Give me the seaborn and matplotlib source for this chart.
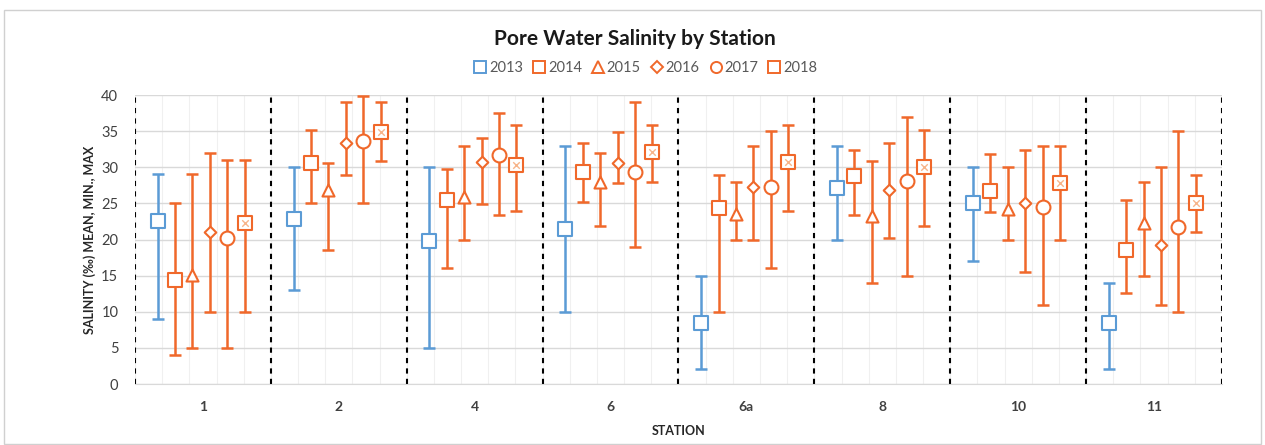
import numpy as np
import pandas as pd
import matplotlib.pyplot as plt
import seaborn as sns
from matplotlib.lines import Line2D

stations = ['1', '2', '4', '6', '6a', '8', '10', '11']
years = ['2013', '2014', '2015', '2016', '2017', '2018']

mean_2013 = [22.6, 22.8, 19.8, 21.5, 8.5, 27.1, 25.1, 8.5]
min_2013 = [9, 13, 5, 10, 2.1, 20, 17, 2.1]
max_2013 = [29, 30, 30, 32.9, 15, 32.9, 30, 14]

mean_2014 = [14.4, 30.6, 25.5, 29.4, 24.4, 28.8, 26.7, 18.5]
min_2014 = [4, 25.1, 16, 25.2, 10, 23.4, 23.8, 12.6]
max_2014 = [25, 35.2, 29.8, 33.3, 28.9, 32.4, 31.8, 25.5]

mean_2015 = [15.1, 26.8, 25.9, 27.9, 23.5, 23.3, 24.2, 22.3]
min_2015 = [5, 18.6, 20, 21.9, 20, 14, 20, 15]
max_2015 = [29, 30.6, 32.9, 32, 28, 30.9, 30, 28]

mean_2016 = [21.0, 33.4, 30.7, 30.6, 27.2, 26.9, 25.1, 19.2]
min_2016 = [10, 28.9, 24.9, 27.8, 20, 20.2, 15.5, 11]
max_2016 = [32, 39, 34, 34.9, 32.9, 33.3, 32.4, 30]

mean_2017 = [20.2, 33.7, 31.7, 29.4, 27.3, 28.1, 24.5, 21.7]
min_2017 = [5, 25, 23.4, 18.9, 16, 15, 11, 10]
max_2017 = [31, 39.9, 37.5, 39.1, 35, 37, 32.9, 35]

mean_2018 = [22.3, 34.9, 30.3, 32.1, 30.7, 30, 27.8, 25.1]
min_2018 = [10, 30.8, 23.9, 27.9, 23.9, 21.9, 20, 21.1]
max_2018 = [31, 39, 35.9, 35.9, 35.9, 35.1, 32.9, 28.9]

means = [mean_2013, mean_2014, mean_2015, mean_2016, mean_2017, mean_2018]
mins = [min_2013, min_2014, min_2015, min_2016, min_2017, min_2018]
maxs = [max_2013, max_2014, max_2015, max_2016, max_2017, max_2018]

rows = []
for i, yr in enumerate(years):
    for j, st in enumerate(stations):
        rows.append({'station': st, 'idx': j, 'year': yr, 'yi': i,
                     'mean': means[i][j], 'min': mins[i][j], 'max': maxs[i][j]})
df = pd.DataFrame(rows)
df['x'] = df['idx'] + (df['yi'] - 2.6) * 0.128

blue = '#5B9BD5'
orange = '#F0682A'
colors = {'2013': blue, '2014': orange, '2015': orange, '2016': orange, '2017': orange, '2018': orange}
markers = {'2013': 's', '2014': 's', '2015': '^', '2016': 'D', '2017': 'o', '2018': 's'}
sizes = {'2013': 105, '2014': 105, '2015': 75, '2016': 35, '2017': 100, '2018': 105}

sns.set_style("white")
plt.rcParams['font.family'] = ['Lato', 'DejaVu Sans']

fig = plt.figure(figsize=(12.65, 4.45), dpi=100)
ax = fig.add_axes([0.1067, 0.137, 0.8593, 0.6495])

for yr in years:
    d = df[df['year'] == yr]
    ax.errorbar(d['x'], d['mean'], yerr=[d['mean'] - d['min'], d['max'] - d['mean']],
                fmt='none', ecolor=colors[yr], elinewidth=1.8, capsize=4.5, capthick=1.8, zorder=3)
    sns.scatterplot(data=d, x='x', y='mean', ax=ax, marker=markers[yr], s=sizes[yr],
                    color='white', edgecolor=colors[yr], linewidth=1.5, zorder=4)
    if yr == '2018':
        sns.scatterplot(data=d, x='x', y='mean', ax=ax, marker='x', s=22,
                        color='#F7B48A', linewidth=1.0, zorder=5)

# group separators
for b in np.arange(-0.5, len(stations), 1.0):
    ax.axvline(b, color='black', linestyle=(0, (2.5, 2.5)), linewidth=1.5, zorder=2)

ax.set_yticks(range(0, 41, 5))
ax.set_xticks(range(len(stations)))
ax.set_xticklabels(stations, fontweight='bold', fontsize=10, color='#404040')
ax.tick_params(axis='y', labelsize=10.5, labelcolor='#404040', length=0, pad=12)
ax.tick_params(axis='x', length=0, pad=12)
ax.set_xticks(np.arange(-0.5, len(stations) - 0.4, 0.2), minor=True)
ax.tick_params(axis='x', which='minor', length=0)
ax.set_xlim(-0.5, len(stations) - 0.5)
ax.set_ylim(0, 40)
ax.grid(axis='y', color='#d9d9d9', linewidth=1.0, zorder=0)
ax.grid(axis='x', which='minor', color='#f0f0f0', linewidth=0.8, zorder=0)
ax.grid(axis='x', which='major', visible=False)
for s in ['top', 'right', 'left']:
    ax.spines[s].set_visible(False)
ax.spines['bottom'].set_color('#d9d9d9')

ax.set_xlabel('STATION', fontweight='bold', fontsize=9, color='#262626', labelpad=9)
ax.set_ylabel('SALINITY (‰) MEAN, MIN., MAX', fontweight='bold', fontsize=9, color='#262626', labelpad=4)

fig.suptitle('Pore Water Salinity by Station', x=0.502, y=0.935, fontsize=15, fontweight='bold', color='#1a1a1a')

handles = []
for yr in years:
    handles.append(Line2D([], [], linestyle='none', marker=markers[yr], markersize=8 if sizes[yr] > 50 else 6,
                          markerfacecolor='white', markeredgecolor=colors[yr], markeredgewidth=1.4))
fig.legend(handles, years, loc='center', bbox_to_anchor=(0.51, 0.847), ncol=6, frameon=False,
           fontsize=10.5, handletextpad=0.1, columnspacing=0.6, handlelength=1.0, labelcolor='#595959')

fig.patches.append(plt.Rectangle((0.003, 0.003), 0.994, 0.975, transform=fig.transFigure,
                                 fill=False, edgecolor='#d0d0d0', linewidth=1.0))

fig.savefig('out.png', dpi=100)
